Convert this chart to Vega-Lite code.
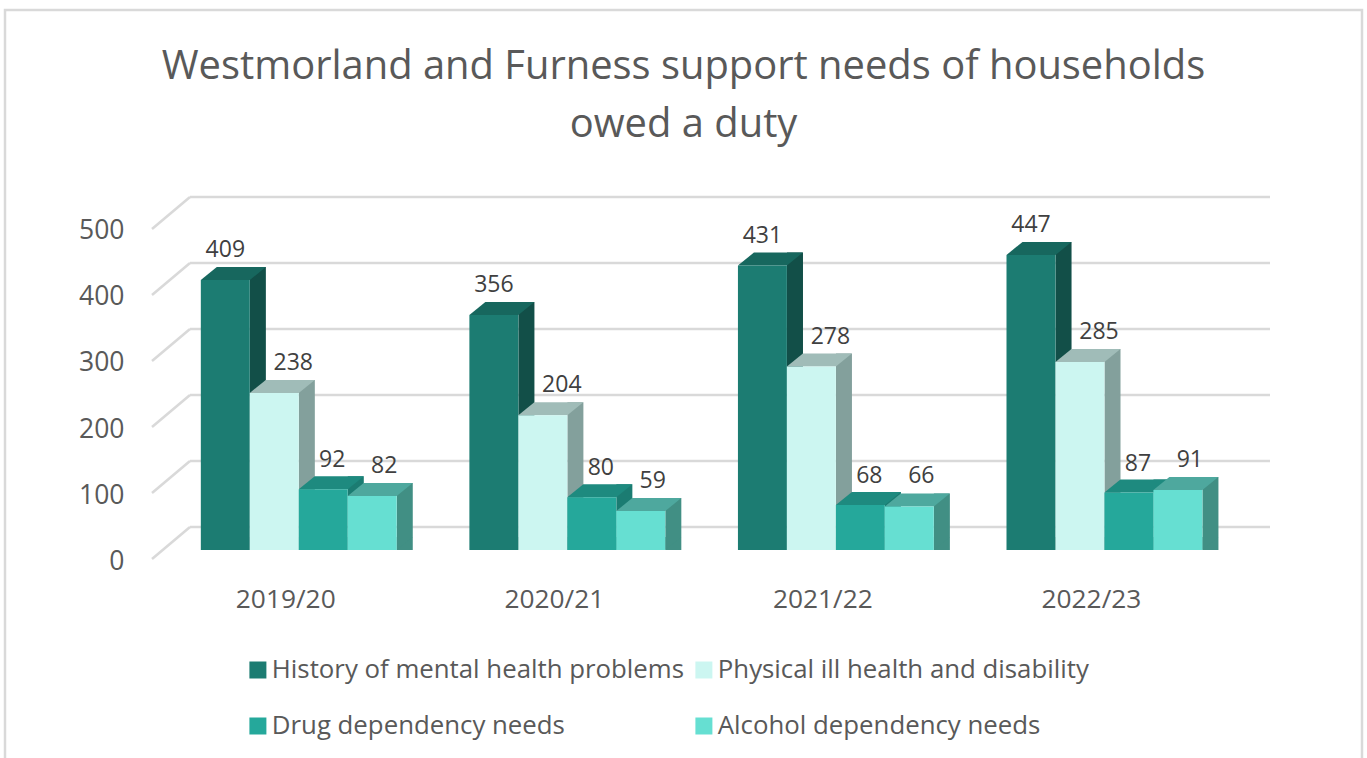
{
"$schema":"https://vega.github.io/schema/vega-lite/v6.json",
"width":1357,"height":750,
"autosize":{"type":"none"},
"padding":{"left":5,"right":5,"top":10,"bottom":0},
"background":"white",
"config":{"view":{"stroke":"#d9d9d9","strokeWidth":2.5},"font":"Open Sans"},
"title":{"text":["Westmorland and Furness support needs of households","owed a duty"],"font":"Open Sans","fontSize":39.9,"fontWeight":"normal","color":"#595959","anchor":"middle","frame":"group","baseline":"top","offset":-135,"lineHeight":58},
"datasets":{
"walls":[{"level":0},{"level":100},{"level":200},{"level":300},{"level":400},{"level":500}],
"rows":[
{"year":"2019/20","need":"History of mental health problems","count":409},
{"year":"2019/20","need":"Physical ill health and disability","count":238},
{"year":"2019/20","need":"Drug dependency needs","count":92},
{"year":"2019/20","need":"Alcohol dependency needs","count":82},
{"year":"2020/21","need":"History of mental health problems","count":356},
{"year":"2020/21","need":"Physical ill health and disability","count":204},
{"year":"2020/21","need":"Drug dependency needs","count":80},
{"year":"2020/21","need":"Alcohol dependency needs","count":59},
{"year":"2021/22","need":"History of mental health problems","count":431},
{"year":"2021/22","need":"Physical ill health and disability","count":278},
{"year":"2021/22","need":"Drug dependency needs","count":68},
{"year":"2021/22","need":"Alcohol dependency needs","count":66},
{"year":"2022/23","need":"History of mental health problems","count":447},
{"year":"2022/23","need":"Physical ill health and disability","count":285},
{"year":"2022/23","need":"Drug dependency needs","count":87},
{"year":"2022/23","need":"Alcohol dependency needs","count":91}
]},
"resolve":{"scale":{"x":"independent"},"axis":{"x":"independent","y":"independent"}},
"layer":[
{"data":{"name":"walls"},
 "encoding":{"y":{"field":"level","type":"quantitative","scale":{"domain":[-318.18,818.18],"nice":false,"zero":false},"axis":null}},
 "layer":[
 {"mark":{"type":"rule","stroke":"#d9d9d9","strokeWidth":2.5,"yOffset":-23,"y2Offset":-23},
  "encoding":{"x":{"datum":0,"type":"quantitative","scale":{"domain":[-0.17130,1.08519],"nice":false,"zero":false},"axis":null},"x2":{"datum":1}}},
 {"mark":{"type":"point","filled":false,"stroke":"#d9d9d9","strokeWidth":2.5,"size":4,"opacity":1,"shape":"M0 0 L-38 32","yOffset":-23},
  "encoding":{"x":{"datum":0,"type":"quantitative","scale":{"domain":[-0.17130,1.08519],"nice":false,"zero":false},"axis":null}}}
 ]},
{"data":{"name":"rows"},
 "resolve":{"scale":{"color":"independent","x":"independent","xOffset":"independent"},"axis":{"x":"independent","y":"independent"}},
 "encoding":{
  "x":{"field":"year","type":"nominal","sort":null,"scale":{"paddingInner":0.2707,"paddingOuter":0.6618,"align":0.5509},"axis":null},
  "xOffset":{"field":"need","type":"nominal","scale":{"domain":["History of mental health problems","Physical ill health and disability","Drug dependency needs","Alcohol dependency needs"]}},
  "y":{"field":"count","type":"quantitative","stack":null,"scale":{"domain":[-318.18,818.18],"nice":false,"zero":false},"axis":null}
 },
 "layer":[
 {"mark":{"type":"bar","size":16,"yOffset":-13,"y2Offset":-13},
  "encoding":{"x":{"field":"year","type":"nominal","sort":null,"axis":null,"scale":{"paddingInner":0.2707,"paddingOuter":0.6618,"align":0.6425}},
   "color":{"field":"need","type":"nominal","legend":null,"scale":{"domain":["History of mental health problems","Physical ill health and disability","Drug dependency needs","Alcohol dependency needs"],"range":["#124f48","#83a09c","#1b7c72","#418f84"]}}}},
 {"mark":{"type":"point","filled":true,"strokeWidth":0,"opacity":1,"size":4,"shape":"M24.5 0 L24.5 -13 L40.5 -13 Z"},
  "encoding":{"y":{"datum":0,"type":"quantitative","axis":null},
   "color":{"field":"need","type":"nominal","legend":null,"scale":{"domain":["History of mental health problems","Physical ill health and disability","Drug dependency needs","Alcohol dependency needs"],"range":["#124f48","#83a09c","#1b7c72","#418f84"]}}}},
 {"mark":{"type":"point","filled":true,"strokeWidth":0,"opacity":1,"size":4,"shape":"M-24.5 0 L24.5 0 L40.5 -13 L-8.5 -13 Z"},
  "encoding":{
   "color":{"field":"need","type":"nominal","legend":null,"scale":{"domain":["History of mental health problems","Physical ill health and disability","Drug dependency needs","Alcohol dependency needs"],"range":["#17675e","#a0bcb8","#1e8a7f","#4ea89e"]}}}},
 {"mark":{"type":"bar"},
  "encoding":{
   "x":{"field":"year","type":"nominal","sort":null,"axis":{"title":null,"orient":"bottom","offset":-174,"domain":false,"ticks":false,"labelPadding":0,"labelBaseline":"top","labelFontSize":26.3,"labelColor":"#595959","labelFont":"Open Sans","labelOffset":-13,"labelAngle":0}},
   "y":{"field":"count","type":"quantitative","stack":null,"axis":{"title":null,"orient":"left","offset":-119,"values":[0,100,200,300,400,500],"grid":false,"domain":false,"ticks":false,"labelPadding":0,"labelFontSize":26.5,"labelColor":"#595959","labelFont":"Open Sans","labelOffset":11}},
   "color":{"field":"need","type":"nominal","title":null,
    "scale":{"domain":["History of mental health problems","Physical ill health and disability","Drug dependency needs","Alcohol dependency needs"],"range":["#1c7c72","#ccf6f1","#25a89b","#66dfd2"]},
    "legend":{"orient":"none","direction":"horizontal","legendX":240,"legendY":643,"columns":2,"symbolType":"square","symbolSize":289,"symbolStrokeWidth":0,"labelFontSize":25.8,"labelFont":"Open Sans","labelColor":"#595959","rowPadding":22,"columnPadding":6,"labelOffset":1,"labelLimit":500,"clipHeight":34}}}},
 {"transform":[{"filter":"datum.need === 'History of mental health problems'"}],
  "mark":{"type":"text","fontSize":23,"font":"Open Sans","color":"#404040","dy":-30,"dx":0},
  "encoding":{"text":{"field":"count","type":"quantitative"}}},
 {"transform":[{"filter":"datum.need === 'Physical ill health and disability'"}],
  "mark":{"type":"text","fontSize":23,"font":"Open Sans","color":"#404040","dy":-30,"dx":19},
  "encoding":{"text":{"field":"count","type":"quantitative"}}},
 {"transform":[{"filter":"datum.need === 'Drug dependency needs'"}],
  "mark":{"type":"text","fontSize":23,"font":"Open Sans","color":"#404040","dy":-29,"dx":9},
  "encoding":{"text":{"field":"count","type":"quantitative"}}},
 {"transform":[{"filter":"datum.need === 'Alcohol dependency needs'"}],
  "mark":{"type":"text","fontSize":23,"font":"Open Sans","color":"#404040","dy":-30,"dx":12},
  "encoding":{"text":{"field":"count","type":"quantitative"}}}
 ]}
]
}
